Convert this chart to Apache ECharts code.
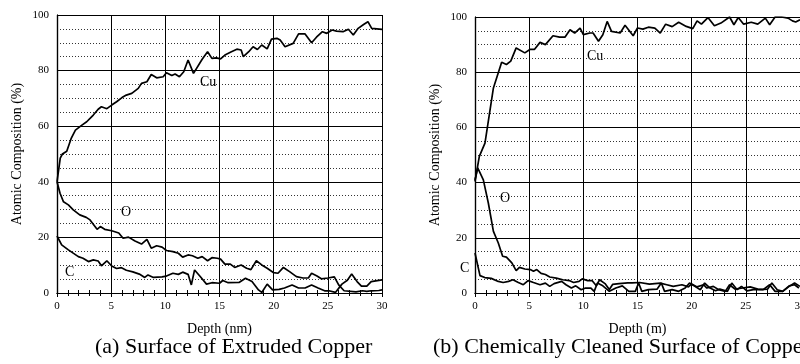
<!DOCTYPE html>
<html>
<head>
<meta charset="utf-8">
<script src="https://cdn.jsdelivr.net/npm/echarts@6/dist/echarts.min.js"></script>
<style>
  html, body { margin: 0; padding: 0; background: #fff; }
  #chart { width: 800px; height: 364px; }
</style>
</head>
<body>
<div id="chart"></div>
<script>
// (a) extruded copper: [depth nm, atomic %]
var cuA = [[0,40],[0.3,48.5],[0.5,50],[0.9,51],[1.3,55.5],[1.7,58.6],[2.3,60.4],[2.74,61.6],[3.05,62.8],[3.35,64],[3.8,66.1],[4.1,67],[4.6,66.3],[5.05,67.6],[5.5,68.8],[6,70.3],[6.4,71.2],[6.9,71.8],[7.5,73.6],[7.8,75.4],[8.3,76],[8.7,78.6],[9.2,77.4],[9.8,77.8],[10.1,79.2],[10.6,78.2],[10.9,78.8],[11.3,77.8],[11.7,79.6],[12.1,83.8],[12.6,79],[13.4,84.1],[13.9,86.8],[14.3,84.4],[14.7,84.6],[15.1,84.2],[15.5,85.6],[16.1,86.8],[16.6,87.7],[17,87.4],[17.2,85],[17.7,86.8],[18.1,88.6],[18.5,87.6],[18.9,89.2],[19.4,87.8],[19.8,91.3],[20.3,91.6],[20.6,91],[21.05,88.6],[21.8,89.8],[22.3,93.2],[22.9,93.2],[23.5,90],[23.95,92],[24.5,94],[24.9,93.4],[25.4,94.6],[25.8,94.2],[26.4,94],[26.9,94.9],[27.35,92.8],[27.8,95.2],[28.3,96.6],[28.7,97.6],[29.05,95.2],[30,94.8]]
var oA = [[0,40],[0.28,35.9],[0.6,32.8],[1.05,31.7],[1.5,29.9],[2.1,28.1],[2.7,27.2],[3.05,26.3],[3.7,22.9],[4,23.9],[4.4,22.9],[5.05,22.4],[5.7,21.6],[6.1,19.7],[6.6,20.1],[7.2,18.7],[7.8,17.6],[8.3,19.3],[8.7,16.1],[9.2,17],[9.7,16.5],[10.1,15.3],[10.7,14.9],[11.2,14.3],[11.6,12.9],[12.1,13.7],[12.5,13.4],[13,12.5],[13.4,13.1],[13.9,11.6],[14.3,12.7],[14.8,12.5],[15.1,12.2],[15.5,10.4],[16,10.4],[16.4,9.2],[17,10.1],[17.5,8.9],[17.9,8.4],[18.4,11.6],[18.9,10.1],[19.4,8.9],[20,7.3],[20.4,7.1],[20.9,9.2],[21.5,7.6],[22.1,5.9],[22.7,5.4],[23.2,5.4],[23.5,7.1],[24,6.1],[24.4,5.1],[25,5.4],[25.6,5.8],[26,2.9],[26.5,0.8],[27.6,0.4],[28.2,0.8],[28.6,0.6],[29,0.8],[29.7,0.9],[30,1.1]]
var cA = [[0,20.5],[0.43,17.3],[1.05,15.5],[1.97,13.1],[2.4,12.5],[2.9,11.3],[3.35,11.9],[3.8,11.5],[4.1,9.8],[4.6,11.6],[5.05,9.7],[5.5,8.8],[5.95,9.1],[6.4,8.2],[7,7.6],[7.6,6.8],[8.1,5.6],[8.4,6.5],[8.9,5.6],[9.7,5.8],[10.1,6.1],[10.7,7.1],[11.2,6.7],[11.6,7.5],[12.1,6.7],[12.4,2.9],[12.7,8.3],[13.2,6],[13.8,3.2],[14.3,3.7],[15,3.5],[15.3,4.5],[15.8,3.7],[16.8,3.8],[17.4,5.3],[18,4.1],[18.6,1.1],[18.9,0.2],[19.4,3.2],[19.9,1.1],[20.5,1.3],[21,1.8],[21.7,2.9],[22.3,1.8],[22.9,1.8],[23.5,2.9],[24.1,1.8],[24.7,0.8],[25.1,0.8],[25.7,0.2],[26.3,3.2],[26.8,4.6],[27.2,6.8],[27.7,4.1],[28.1,2.5],[28.6,2.5],[29,4.1],[30,4.7]]

// (b) chemically cleaned
var cuB = [[0,40.4],[0.4,49.5],[0.92,54.3],[1.7,74.3],[2.46,83.6],[2.9,82.8],[3.3,84],[3.8,88.8],[4.6,87],[5.1,88.3],[5.5,88.3],[6,90.8],[6.5,90],[7.2,93.2],[7.8,92.7],[8.3,92.7],[8.77,95.4],[9.2,94.2],[9.7,96],[10,93.6],[10.6,94.2],[10.9,94.2],[11.4,91.2],[11.8,93.6],[12.2,98.4],[12.6,94.8],[13.4,94.2],[13.85,97],[14.6,93.2],[15,96],[15.5,95.6],[16,96.3],[16.6,96],[17.1,94.2],[17.6,97.4],[18.2,96.5],[18.8,98.1],[19.5,96.6],[20.1,95.8],[20.5,98.6],[20.9,97.4],[21.5,99.8],[22.1,96.8],[22.7,97.8],[23.5,100],[23.9,97.2],[24.3,99.8],[24.8,97.4],[25.5,98.1],[26.1,97.4],[26.8,99.6],[27.2,97.2],[27.7,100],[28.3,100],[28.9,99.6],[29.3,98.6],[29.6,98.2],[30,99]]
var oB = [[0,41],[0.25,45.3],[0.77,41],[1.23,32.6],[1.7,22.3],[2.15,18.1],[2.55,13.3],[2.9,13],[3.4,10.9],[3.8,8.1],[4.1,9.3],[4.6,8.7],[5.1,8.5],[5.4,7.9],[5.7,8.5],[6.1,7.1],[6.5,6.7],[6.9,5.8],[7.5,5.4],[8.1,4.8],[8.7,4.5],[9.1,3.8],[9.6,4.2],[9.9,5.1],[10.4,4.5],[10.8,4.5],[11.2,2.6],[11.5,4.8],[12,3.4],[12.4,1.3],[12.7,3.1],[13.3,3.4],[14.1,3.7],[14.5,3.7],[15.2,3.8],[16.1,3.2],[17.1,3.6],[17.7,3],[18.3,2.4],[19.1,3],[19.7,2.2],[20,3.3],[20.5,2.2],[21.1,3],[21.4,1.8],[22,2.4],[22.5,1.2],[23.1,0.6],[23.5,3],[24,1.4],[24.7,1.8],[25.4,2.2],[26.1,1.4],[26.6,1.2],[27.2,3],[27.7,0.6],[28.4,0.6],[29,2.6],[29.5,3],[29.9,1.8]]
var cB = [[0,14.5],[0.46,6.3],[0.9,5.6],[1.5,5.3],[2.15,4.2],[2.6,3.8],[3.1,4.2],[3.5,4.8],[4,3.8],[4.46,3],[4.9,4.5],[5.4,3.8],[6,3],[6.5,3.6],[6.9,2.4],[7.3,3.4],[8,4.2],[8.4,3],[8.9,1.8],[9.3,2.6],[9.8,1.2],[10.2,1.8],[10.7,1.8],[11,0.6],[11.3,3.6],[11.8,2.6],[12.4,0.6],[13,1.8],[13.6,2.6],[14.2,0.6],[14.8,0.6],[15.1,3.6],[15.4,0.6],[16,1.2],[16.8,1.4],[17.2,3.6],[17.5,0.6],[18.2,1.2],[18.8,0.6],[19.4,1.8],[19.8,3.6],[20.3,2.4],[20.8,1.2],[21.2,3.6],[21.7,1.8],[22.2,0.8],[22.6,1.4],[23.3,0.6],[23.7,3.6],[24.2,1.2],[24.6,2.4],[25.1,0.8],[25.7,1.2],[26.3,1.2],[27,1.4],[27.4,3.6],[27.9,1.2],[28.4,0.6],[29,2.4],[29.5,3.6],[30,2.4]]

var xLabelsA = 'Depth (nm)'
var xLabelsB = 'Depth (m)'
var yName = 'Atomic Composition (%)'
var captions = ['(a) Surface of Extruded Copper', '(b) Chemically Cleaned Surface of Copper']

var FONT = '"Liberation Serif", "DejaVu Serif", serif'

function xAxis(gridIndex, name) {
    return {
        type: 'value', gridIndex: gridIndex, min: 0, max: 30, interval: 5,
        name: name, nameLocation: 'middle', nameGap: 29,
        nameTextStyle: { fontFamily: FONT, fontSize: 14, color: '#000' },
        axisLine: { show: true, lineStyle: { color: '#000', width: 1.2 } },
        axisTick: { inside: true, length: 4, lineStyle: { color: '#000' } },
        minorTick: { show: true, splitNumber: 5, length: 3, lineStyle: { color: '#000' } },
        axisLabel: { fontFamily: FONT, fontSize: 11, color: '#000', margin: 8 },
        splitLine: { show: true, lineStyle: { color: '#000', width: 1 } },
    }
}
function xAxisTop(gridIndex) {
    return {
        type: 'value', gridIndex: gridIndex, position: 'top', min: 0, max: 30, interval: 5,
        axisLine: { show: true, lineStyle: { color: '#000', width: 1.2 } },
        axisTick: { inside: true, length: 4, lineStyle: { color: '#000' } },
        minorTick: { show: true, splitNumber: 5, length: 3, lineStyle: { color: '#000' } },
        axisLabel: { show: false },
        splitLine: { show: false },
    }
}
function yAxis(gridIndex) {
    return {
        type: 'value', gridIndex: gridIndex, min: 0, max: 100, interval: 20,
        name: yName, nameLocation: 'middle', nameGap: 33, nameRotate: 90,
        nameTextStyle: { fontFamily: FONT, fontSize: 14, color: '#000' },
        axisLine: { show: true, lineStyle: { color: '#000', width: 1.2 } },
        axisTick: { inside: true, length: 4, lineStyle: { color: '#000' } },
        axisLabel: { fontFamily: FONT, fontSize: 11, color: '#000', margin: 8 },
        splitLine: { show: true, lineStyle: { color: '#000', width: 1 } },
        minorTick: { show: false, splitNumber: 4 },
        minorSplitLine: { show: true, lineStyle: { color: '#333', width: 1, type: [1, 2] } },
    }
}
function yAxisRight(gridIndex) {
    return {
        type: 'value', gridIndex: gridIndex, position: 'right', min: 0, max: 100, interval: 20,
        axisLine: { show: true, lineStyle: { color: '#000', width: 1.2 } },
        axisTick: { show: false },
        axisLabel: { show: false },
        splitLine: { show: false },
    }
}
function line(data, xi, yi) {
    return {
        type: 'line', data: data, xAxisIndex: xi, yAxisIndex: yi,
        showSymbol: false, symbol: 'none', silent: true,
        lineStyle: { color: '#000', width: 1.7 },
    }
}
function label(text, x, y) {
    return { type: 'text', left: x, top: y, silent: true,
        style: { text: text, fill: '#000', font: '14px ' + FONT } }
}

var chart = echarts.init(document.getElementById('chart'))
chart.setOption({
    animation: false,
    backgroundColor: '#fff',
    grid: [
        { left: 57, top: 15, width: 325, height: 278, outerBoundsMode: 'none' },
        { left: 475, top: 17, width: 325, height: 276, outerBoundsMode: 'none' },
    ],
    xAxis: [xAxis(0, xLabelsA), xAxisTop(0), xAxis(1, xLabelsB), xAxisTop(1)],
    yAxis: [yAxis(0), yAxisRight(0), yAxis(1), yAxisRight(1)],
    series: [
        line(cuA, 0, 0), line(oA, 0, 0), line(cA, 0, 0),
        line(cuB, 2, 2), line(oB, 2, 2), line(cB, 2, 2),
    ],
    graphic: [
        label('Cu', 200, 75), label('O', 121, 205), label('C', 65, 265),
        label('Cu', 587, 49), label('O', 500, 191), label('C', 460, 261),
        { type: 'text', left: 95, top: 336, silent: true,
          style: { text: captions[0], fill: '#000', font: '22px ' + FONT } },
        { type: 'text', left: 433, top: 336, silent: true,
          style: { text: captions[1], fill: '#000', font: '22px ' + FONT } },
    ],
})
</script>
</body>
</html>
